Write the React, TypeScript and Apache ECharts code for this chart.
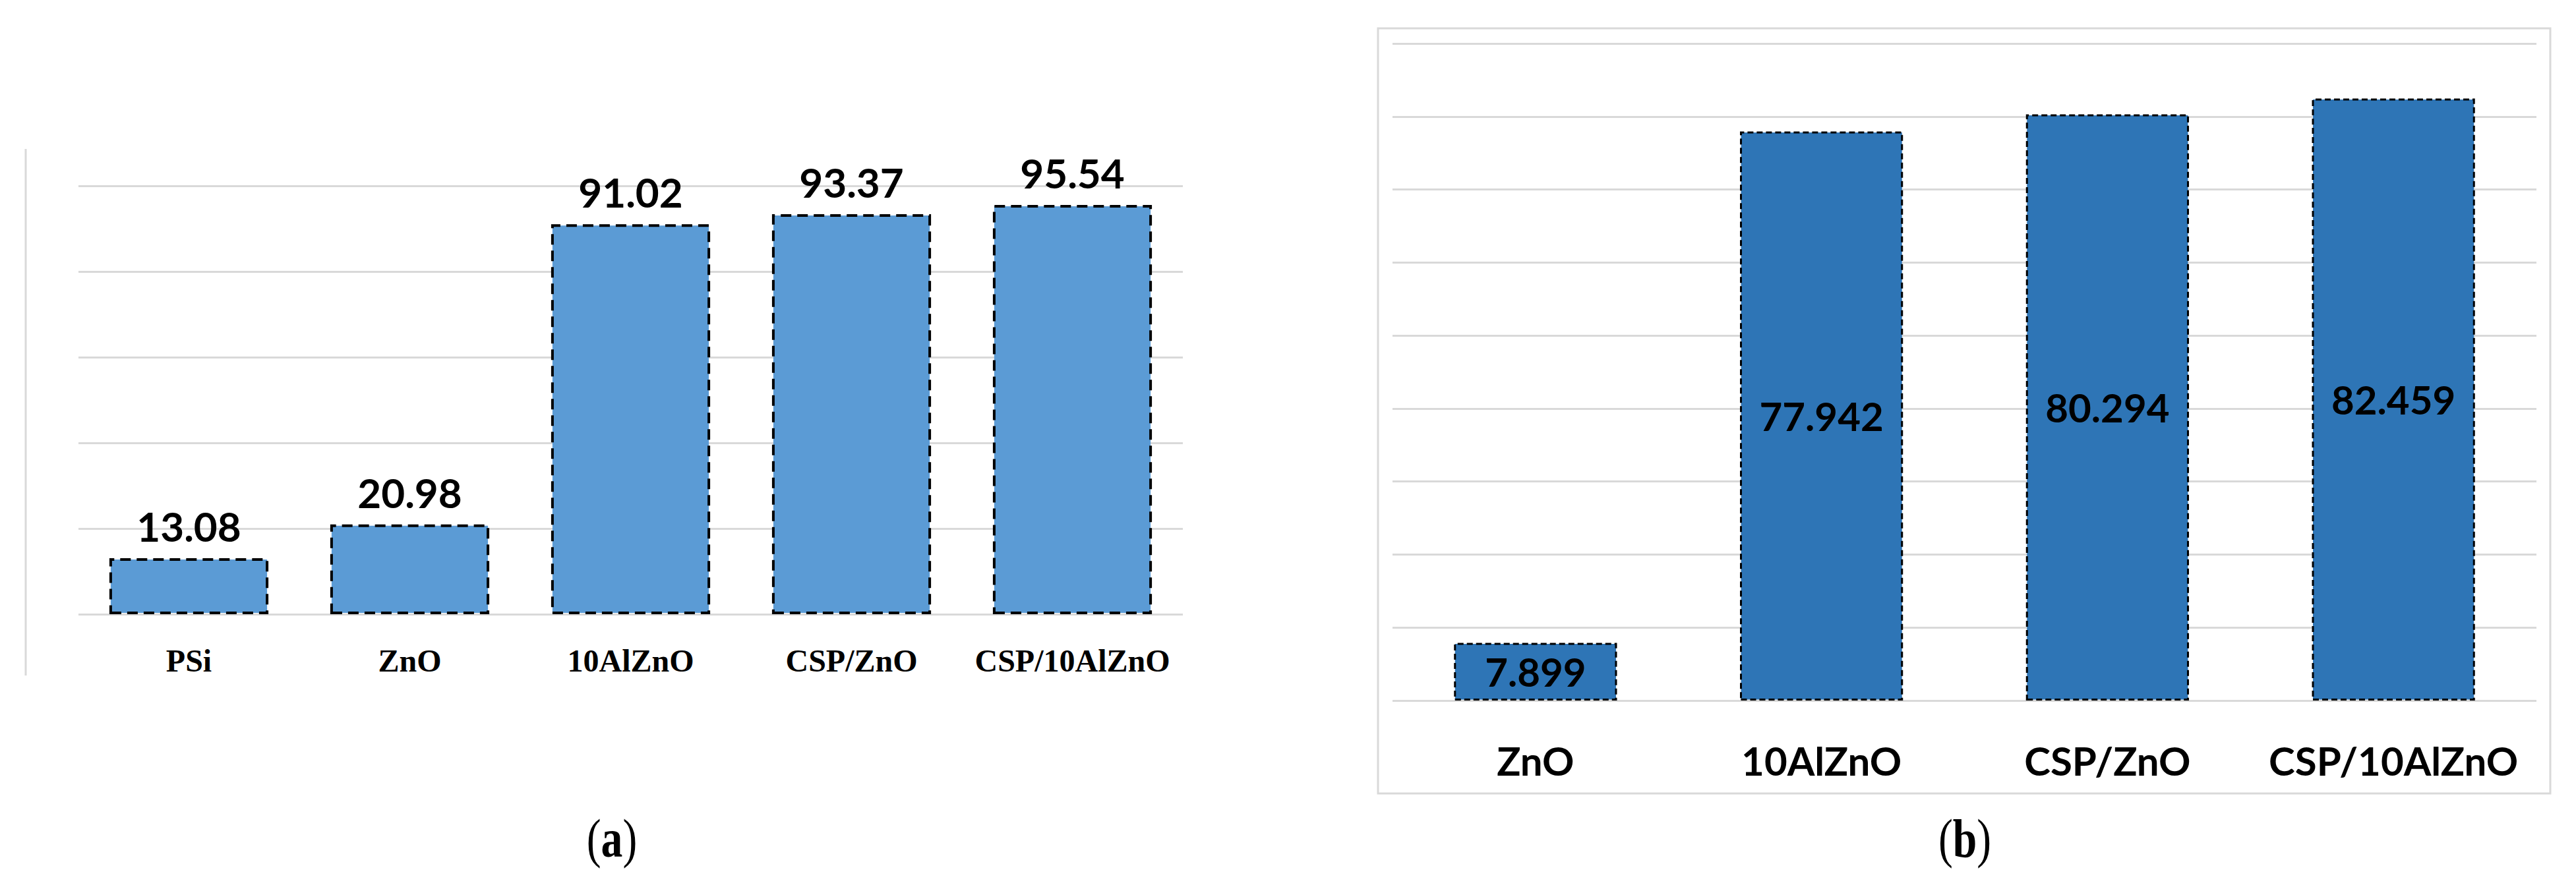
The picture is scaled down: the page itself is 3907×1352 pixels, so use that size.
import React, { useEffect, useRef } from "react";
import * as echarts from "echarts";

// ---- data ----
const categoriesA = ["PSi", "ZnO", "10AlZnO", "CSP/ZnO", "CSP/10AlZnO"];
const valuesA = [13.08, 20.98, 91.02, 93.37, 95.54];
const categoriesB = ["ZnO", "10AlZnO", "CSP/ZnO", "CSP/10AlZnO"];
const valuesB = [7.899, 77.942, 80.294, 82.459];
const yMaxA = 100;
const yStepA = 20;
const yMaxB = 90;
const yStepB = 10;

const W = 3907;
const H = 1352;
const GRID_COLOR = "#d9d9d9";
const SANS = "Lato, 'Open Sans', 'Noto Sans', sans-serif";
const SERIF = "'Liberation Serif', 'DejaVu Serif', serif";

export default function App() {
  const ref = useRef<HTMLDivElement>(null);
  useEffect(() => {
    if (!ref.current) return;
    const chart = echarts.init(ref.current, undefined, { renderer: "svg", width: W, height: H });
    const option: any = {
      animation: false,
      backgroundColor: "#ffffff",
      grid: [
        { left: 119, width: 1675, top: 282, height: 650 },
        { left: 2112, width: 1735, top: 66, height: 997 },
      ],
      xAxis: [
        {
          type: "category",
          gridIndex: 0,
          data: categoriesA,
          axisLine: { show: false },
          axisTick: { show: false },
          axisLabel: {
            color: "#000",
            fontFamily: SERIF,
            fontWeight: "bold",
            fontSize: 48,
            lineHeight: 48,
            margin: 46,
            interval: 0,
          },
        },
        {
          type: "category",
          gridIndex: 1,
          data: categoriesB,
          axisLine: { show: false },
          axisTick: { show: false },
          axisLabel: {
            color: "#000",
            fontFamily: SANS,
            fontWeight: "bold",
            fontSize: 60,
            lineHeight: 60,
            margin: 61,
            interval: 0,
          },
        },
      ],
      yAxis: [
        {
          type: "value",
          gridIndex: 0,
          min: 0,
          max: yMaxA,
          interval: yStepA,
          axisLabel: { show: false },
          axisLine: { show: false },
          axisTick: { show: false },
          splitLine: { show: true, lineStyle: { color: GRID_COLOR, width: 3 } },
        },
        {
          type: "value",
          gridIndex: 1,
          min: 0,
          max: yMaxB,
          interval: yStepB,
          axisLabel: { show: false },
          axisLine: { show: false },
          axisTick: { show: false },
          splitLine: { show: true, lineStyle: { color: GRID_COLOR, width: 3 } },
        },
      ],
      series: [
        {
          type: "bar",
          xAxisIndex: 0,
          yAxisIndex: 0,
          data: valuesA,
          barWidth: "72%",
          itemStyle: {
            color: "#5B9BD5",
            borderColor: "#000",
            borderWidth: 4,
            borderType: [16, 9],
          },
          label: {
            show: true,
            position: "top",
            distance: 18,
            color: "#000",
            fontFamily: SANS,
            fontWeight: "bold",
            fontSize: 62,
            lineHeight: 62,
            formatter: (p: any) => String(p.value),
          },
        },
        {
          type: "bar",
          xAxisIndex: 1,
          yAxisIndex: 1,
          data: valuesB,
          barWidth: "57%",
          itemStyle: {
            color: "#2E75B6",
            borderColor: "#000",
            borderWidth: 3,
            borderType: [9, 5],
          },
          label: {
            show: true,
            position: "inside",
            color: "#000",
            fontFamily: SANS,
            fontWeight: "bold",
            fontSize: 60,
            lineHeight: 60,
            formatter: (p: any) => String(p.value),
          },
        },
      ],
      graphic: [
        {
          type: "line",
          shape: { x1: 39, y1: 226, x2: 39, y2: 1025 },
          style: { stroke: GRID_COLOR, lineWidth: 3 },
          z: -1,
        },
        {
          type: "rect",
          shape: { x: 2090, y: 43, width: 1778, height: 1161 },
          style: { fill: "none", stroke: GRID_COLOR, lineWidth: 3 },
          z: -1,
        },
        {
          type: "text",
          x: 928,
          y: 1272,
          scaleX: 0.8,
          style: {
            text: "{p|(}{b|a}{p|)}",
            align: "center",
            verticalAlign: "middle",
            rich: {
              p: { fontFamily: SERIF, fontSize: 82, fill: "#000" },
              b: { fontFamily: SERIF, fontSize: 82, fontWeight: "bold", fill: "#000" },
            },
          },
        },
        {
          type: "text",
          x: 2980,
          y: 1272,
          scaleX: 0.8,
          style: {
            text: "{p|(}{b|b}{p|)}",
            align: "center",
            verticalAlign: "middle",
            rich: {
              p: { fontFamily: SERIF, fontSize: 82, fill: "#000" },
              b: { fontFamily: SERIF, fontSize: 82, fontWeight: "bold", fill: "#000" },
            },
          },
        },
      ],
    };
    chart.setOption(option);
    return () => chart.dispose();
  }, []);
  return (
    <div
      ref={ref}
      style={{ position: "fixed", left: 0, top: 0, width: W, height: H, background: "#fff" }}
    />
  );
}
